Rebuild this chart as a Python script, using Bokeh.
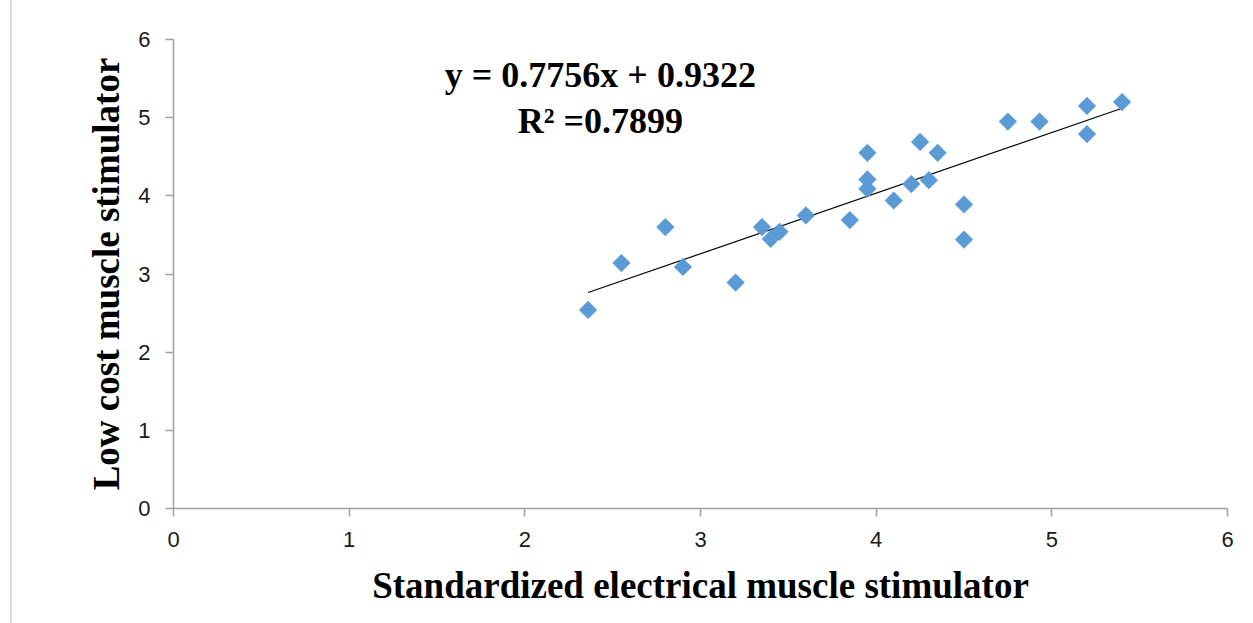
import numpy as np
from bokeh.plotting import figure
from bokeh.models import Range1d, Label, FixedTicker
from bokeh.embed import file_html
from bokeh.resources import INLINE

# Data
standard_x = [2.36, 2.55, 2.80, 2.90, 3.20, 3.35, 3.40, 3.45, 3.60, 3.85,
              3.95, 3.95, 3.95, 4.10, 4.20, 4.25, 4.30, 4.35, 4.50, 4.50,
              4.75, 4.93, 5.20, 5.20, 5.40]
lowcost_y = [2.54, 3.14, 3.60, 3.09, 2.89, 3.60, 3.45, 3.54, 3.75, 3.69,
             4.55, 4.21, 4.09, 3.94, 4.15, 4.69, 4.20, 4.55, 3.89, 3.44,
             4.95, 4.95, 5.15, 4.79, 5.20]
slope = 0.7756
intercept = 0.9322
r_squared = 0.7899
x_ticks = [0, 1, 2, 3, 4, 5, 6]
y_ticks = [0, 1, 2, 3, 4, 5, 6]

p = figure(width=1241, height=623, output_backend="svg", toolbar_location=None,
           x_range=Range1d(0, 6), y_range=Range1d(0, 6),
           min_border_left=161, min_border_right=26, min_border_top=39,
           min_border_bottom=115)
p.styles = {"border-left": "2px solid #d9d9d9", "margin-left": "10px"}
p.outline_line_color = None
p.grid.grid_line_color = None
p.background_fill_color = "white"

axis_color = "#a0a0a0"
for ax in (p.xaxis[0], p.yaxis[0]):
    ax.axis_line_color = axis_color
    ax.axis_line_width = 1.5
    ax.major_tick_line_color = axis_color
    ax.major_tick_line_width = 1.5
    ax.major_tick_out = 8
    ax.major_tick_in = 0
    ax.minor_tick_line_color = None
    ax.major_label_text_font = "Liberation Sans"
    ax.major_label_text_font_size = "22px"
    ax.major_label_text_color = "#1a1a1a"
    ax.axis_label_text_font = "Liberation Serif"
    ax.axis_label_text_font_style = "bold"
    ax.axis_label_text_font_size = "37px"
    ax.axis_label_text_color = "black"

p.xaxis.ticker = FixedTicker(ticks=x_ticks)
p.yaxis.ticker = FixedTicker(ticks=y_ticks)
p.xaxis.major_label_standoff = 15
p.yaxis.major_label_standoff = 15
p.xaxis.axis_label = "Standardized electrical muscle stimulator"
p.yaxis.axis_label = "Low cost muscle stimulator"
p.xaxis.axis_label_standoff = 15
p.yaxis.axis_label_standoff = 8

# trend line
tx = np.array([min(standard_x), max(standard_x)])
p.line(tx, slope * tx + intercept, line_color="black", line_width=1.2)

p.scatter(standard_x, lowcost_y, marker="square", size=12.5, angle=np.pi / 4,
          fill_color="#5b9bd5", line_color="#5b9bd5", line_width=0.5)

eq1 = Label(x=2.43, y=5.54, text=f"y = {slope}x + {intercept}",
            text_font="Liberation Serif", text_font_style="bold",
            text_font_size="36px", text_align="center",
            text_baseline="alphabetic", text_color="black")
eq2 = Label(x=2.43, y=4.96, text=f"R\u00b2 ={r_squared}",
            text_font="Liberation Serif", text_font_style="bold",
            text_font_size="36px", text_align="center",
            text_baseline="alphabetic", text_color="black")
p.add_layout(eq1)
p.add_layout(eq2)

open("out.html", "w").write(file_html(p, INLINE))
